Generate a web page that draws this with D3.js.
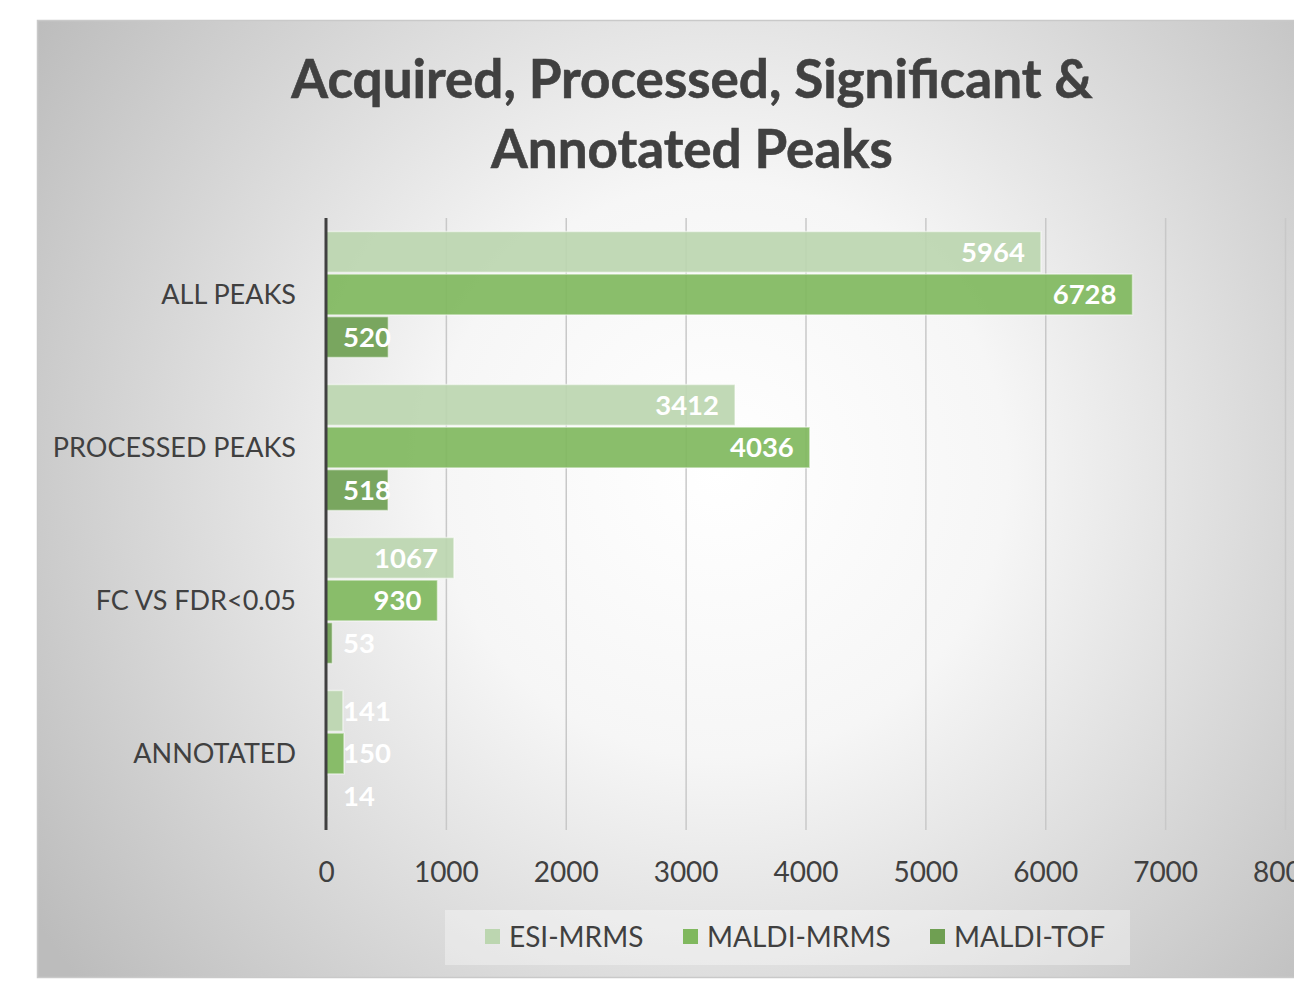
<!DOCTYPE html>
<html>
<head>
<meta charset="utf-8">
<script src="https://cdn.jsdelivr.net/npm/d3@7"></script>
<style>
  body { margin: 0; background: #fff; }
  svg { display: block; }
</style>
</head>
<body>
<svg id="chart" width="1294" height="983"></svg>
<script>
// data
const categories = ["ALL PEAKS", "PROCESSED PEAKS", "FC VS FDR<0.05", "ANNOTATED"];
const seriesNames = ["ESI-MRMS", "MALDI-MRMS", "MALDI-TOF"];
const esiMrms = [5964, 3412, 1067, 141];
const maldiMrms = [6728, 4036, 930, 150];
const maldiTof = [520, 518, 53, 14];
const xTicks = [0, 1000, 2000, 3000, 4000, 5000, 6000, 7000, 8000];
const titleLines = ["Acquired, Processed, Significant &", "Annotated Peaks"];

const colors = ["#bcd6b0", "#80b85e", "#6f9f52"];
const font = "Lato, 'Open Sans', sans-serif";
const textColor = "#404040";

const svg = d3.select("#chart");

// background panel with radial gradient
const defs = svg.append("defs");
const grad = defs.append("radialGradient")
  .attr("id", "bg")
  .attr("gradientUnits", "userSpaceOnUse")
  .attr("cx", 720).attr("cy", 470).attr("r", 820);
grad.append("stop").attr("offset", "0%").attr("stop-color", "#ffffff");
grad.append("stop").attr("offset", "35%").attr("stop-color", "#f6f6f6");
grad.append("stop").attr("offset", "100%").attr("stop-color", "#bcbcbc");

svg.append("rect")
  .attr("x", 37.5).attr("y", 20.5)
  .attr("width", 1300).attr("height", 957)
  .attr("fill", "url(#bg)")
  .attr("stroke", "#c9c9c9")
  .attr("stroke-width", 1.5);

// title
svg.append("text")
  .attr("x", 692).attr("y", 98)
  .attr("text-anchor", "middle")
  .attr("font-family", font)
  .attr("font-weight", "bold")
  .attr("font-size", 53)
  .attr("fill", textColor)
  .attr("stroke", textColor)
  .attr("stroke-width", 0.6)
  .selectAll("tspan")
  .data(titleLines)
  .join("tspan")
  .attr("x", 692)
  .attr("dy", (d, i) => i === 0 ? 0 : 70)
  .text(d => d);

// scales
const x = d3.scaleLinear().domain([0, 8000]).range([326, 1285]);
const y = d3.scaleBand().domain(categories).range([218, 830]);
const inner = d3.scaleBand().domain(seriesNames).range([y.bandwidth() / 2 - 63, y.bandwidth() / 2 + 63]).paddingInner(0.04);

// gridlines via axis
const grid = svg.append("g")
  .attr("transform", "translate(0,218)")
  .call(d3.axisBottom(x).tickValues(xTicks.slice(1)).tickSize(612).tickFormat(""));
grid.select(".domain").remove();
grid.selectAll(".tick line").attr("stroke", "#c8c8c8").attr("stroke-width", 1.5);

// x tick labels
const xAxis = svg.append("g")
  .attr("transform", "translate(0,830)")
  .call(d3.axisBottom(x).tickValues(xTicks).tickSize(0).tickPadding(0).tickFormat(d3.format("d")));
xAxis.select(".domain").remove();
xAxis.selectAll("text")
  .attr("y", 52)
  .attr("dy", 0)
  .attr("font-family", font)
  .attr("font-size", 28)
  .attr("fill", textColor);

// category labels
const yAxis = svg.append("g")
  .attr("transform", "translate(326,0)")
  .call(d3.axisLeft(y).tickSize(0).tickPadding(30));
yAxis.select(".domain").remove();
yAxis.selectAll("text")
  .attr("dy", "0.36em")
  .attr("font-family", font)
  .attr("font-size", 27)
  .attr("fill", textColor);

// bars
const rows = categories.map((c, i) => ({
  cat: c,
  vals: [esiMrms[i], maldiMrms[i], maldiTof[i]].map((v, j) => ({ s: seriesNames[j], v, j }))
}));

const groups = svg.append("g").selectAll("g")
  .data(rows)
  .join("g")
  .attr("transform", d => `translate(0,${y(d.cat)})`);

groups.selectAll("rect")
  .data(d => d.vals)
  .join("rect")
  .attr("x", x(0))
  .attr("y", d => inner(d.s))
  .attr("width", d => x(d.v) - x(0))
  .attr("height", inner.bandwidth())
  .attr("fill", d => colors[d.j])
  .attr("fill-opacity", 0.92)
  .attr("stroke", "#ffffff")
  .attr("stroke-opacity", 0.5)
  .attr("stroke-width", 1.5);

// data labels
groups.selectAll("text")
  .data(d => d.vals)
  .join("text")
  .attr("y", d => inner(d.s) + inner.bandwidth() / 2)
  .attr("dy", "0.36em")
  .attr("font-family", font)
  .attr("font-weight", "bold")
  .attr("font-size", 27.5)
  .attr("fill", "#ffffff")
  .text(d => d.v)
  .attr("x", function (d) {
    const w = this.getComputedTextLength();
    return Math.max(x(d.v) - 16 - w, x(0) + 17);
  });

// value axis line
svg.append("line")
  .attr("x1", x(0)).attr("x2", x(0))
  .attr("y1", 218).attr("y2", 830)
  .attr("stroke", "#404040")
  .attr("stroke-width", 3);

// legend
const legend = svg.append("g");
legend.append("rect")
  .attr("x", 445).attr("y", 910)
  .attr("width", 685).attr("height", 55)
  .attr("fill", "#ffffff").attr("fill-opacity", 0.35);

const legendX = [485, 683, 930];
const items = legend.selectAll("g")
  .data(seriesNames)
  .join("g")
  .attr("transform", (d, i) => `translate(${legendX[i]},937)`);
items.append("rect")
  .attr("x", 0).attr("y", -8)
  .attr("width", 15).attr("height", 15)
  .attr("fill", (d, i) => colors[i]);
items.append("text")
  .attr("x", 24)
  .attr("dy", "0.36em")
  .attr("font-family", font)
  .attr("font-size", 28)
  .attr("fill", textColor)
  .text(d => d);
</script>
</body>
</html>
